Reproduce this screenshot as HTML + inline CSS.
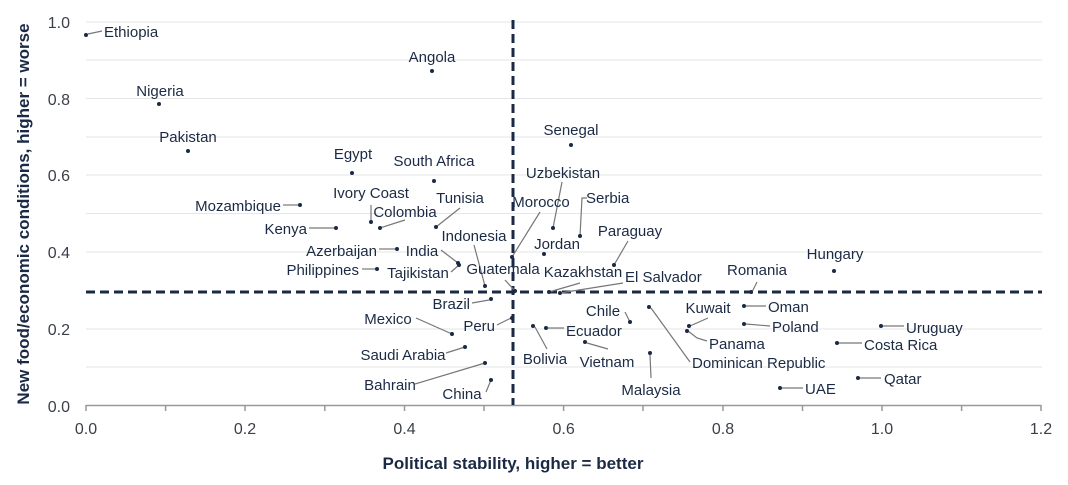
<!DOCTYPE html>
<html><head><meta charset="utf-8"><style>
html,body{margin:0;padding:0;background:#fff;width:1068px;height:485px;overflow:hidden}
svg{display:block}
text{font-family:"Liberation Sans",sans-serif}
</style></head><body>
<svg width="1068" height="485" viewBox="0 0 1068 485" xmlns="http://www.w3.org/2000/svg">
<g stroke="#e6e6e6" stroke-width="1">
<line x1="86" x2="1042" y1="22" y2="22"/><line x1="86" x2="1042" y1="60" y2="60"/><line x1="86" x2="1042" y1="98.5" y2="98.5"/><line x1="86" x2="1042" y1="137" y2="137"/><line x1="86" x2="1042" y1="175" y2="175"/><line x1="86" x2="1042" y1="213.5" y2="213.5"/><line x1="86" x2="1042" y1="252" y2="252"/><line x1="86" x2="1042" y1="329" y2="329"/><line x1="86" x2="1042" y1="367" y2="367"/>
</g>
<g stroke="#999" stroke-width="1.5">
<line x1="86" x2="1041" y1="405.5" y2="405.5"/>
<line x1="86" x2="86" y1="405" y2="411"/><line x1="165.6" x2="165.6" y1="405" y2="411"/><line x1="245" x2="245" y1="405" y2="411"/><line x1="324.8" x2="324.8" y1="405" y2="411"/><line x1="404.5" x2="404.5" y1="405" y2="411"/><line x1="484" x2="484" y1="405" y2="411"/><line x1="563.6" x2="563.6" y1="405" y2="411"/><line x1="643" x2="643" y1="405" y2="411"/><line x1="723" x2="723" y1="405" y2="411"/><line x1="802.5" x2="802.5" y1="405" y2="411"/><line x1="882" x2="882" y1="405" y2="411"/><line x1="961.6" x2="961.6" y1="405" y2="411"/><line x1="1041" x2="1041" y1="405" y2="411"/>
</g>
<g fill="#3a3f48" font-size="16" text-anchor="end">
<text x="70" y="28">1.0</text><text x="70" y="105">0.8</text><text x="70" y="181">0.6</text><text x="70" y="258">0.4</text><text x="70" y="335">0.2</text><text x="70" y="412">0.0</text>
</g>
<g fill="#3a3f48" font-size="16" text-anchor="middle">
<text x="86" y="434">0.0</text><text x="245" y="434">0.2</text><text x="404.5" y="434">0.4</text><text x="563.6" y="434">0.6</text><text x="723" y="434">0.8</text><text x="882" y="434">1.0</text><text x="1041" y="434">1.2</text>
</g>
<text x="513" y="469" text-anchor="middle" font-size="17" font-weight="bold" fill="#1b2a44">Political stability, higher = better</text>
<text transform="translate(29,214) rotate(-90)" text-anchor="middle" font-size="17" font-weight="bold" fill="#1b2a44">New food/economic conditions, higher = worse</text>
<g stroke="#1b2a44" stroke-width="3" stroke-dasharray="9,5">
<line x1="513" x2="513" y1="20" y2="405"/>
<line x1="86" x2="1042" y1="292" y2="292"/>
</g>
<g stroke="#777" stroke-width="1.2" fill="none">
<line x1="88" y1="34" x2="102" y2="31"/>
<line x1="283" y1="205" x2="298" y2="205"/>
<line x1="371" y1="205" x2="371" y2="222"/>
<line x1="562" y1="182" x2="553" y2="228"/>
<polyline points="587,198 582,198 580,236"/>
<line x1="460" y1="208" x2="436" y2="227"/>
<line x1="405" y1="220" x2="380" y2="228"/>
<line x1="540" y1="212" x2="512" y2="257"/>
<line x1="309" y1="228" x2="334" y2="228"/>
<line x1="474" y1="245" x2="485" y2="286"/>
<line x1="628" y1="241" x2="614" y2="265"/>
<line x1="379" y1="249" x2="395" y2="249"/>
<line x1="441" y1="250" x2="458" y2="263"/>
<line x1="362" y1="269" x2="375" y2="269"/>
<line x1="451" y1="272" x2="459" y2="265"/>
<line x1="505" y1="280" x2="515" y2="291"/>
<line x1="580" y1="283" x2="549" y2="292"/>
<line x1="623" y1="283" x2="560" y2="293"/>
<line x1="757" y1="282" x2="752" y2="292"/>
<line x1="472" y1="303" x2="489" y2="300"/>
<line x1="746" y1="306" x2="766" y2="306"/>
<line x1="625" y1="312" x2="630" y2="322"/>
<line x1="651" y1="308" x2="690" y2="362"/>
<line x1="497" y1="325" x2="511" y2="318"/>
<line x1="416" y1="318" x2="452" y2="334"/>
<line x1="708" y1="318" x2="690" y2="326"/>
<line x1="746" y1="324" x2="770" y2="326"/>
<line x1="883" y1="326" x2="904" y2="326"/>
<line x1="535" y1="327" x2="547" y2="349"/>
<line x1="548" y1="328" x2="564" y2="328"/>
<polyline points="688,331 697,338 707,341"/>
<line x1="839" y1="343" x2="862" y2="343"/>
<line x1="587" y1="343" x2="608" y2="349"/>
<line x1="446" y1="353" x2="465" y2="347"/>
<line x1="650" y1="355" x2="651" y2="378"/>
<line x1="415" y1="384" x2="485" y2="363"/>
<line x1="860" y1="378" x2="881" y2="378"/>
<line x1="782" y1="388" x2="803" y2="388"/>
<line x1="486" y1="392" x2="491" y2="380"/>
</g>
<g fill="#1b2a44">
<circle cx="86" cy="35" r="2"/><circle cx="432" cy="71" r="2"/><circle cx="159" cy="104" r="2"/><circle cx="188" cy="151" r="2"/><circle cx="571" cy="145" r="2"/><circle cx="352" cy="173" r="2"/><circle cx="434" cy="181" r="2"/><circle cx="553" cy="228" r="2"/><circle cx="300" cy="205" r="2"/><circle cx="371" cy="222" r="2"/><circle cx="580" cy="236" r="2"/><circle cx="436" cy="227" r="2"/><circle cx="380" cy="228" r="2"/><circle cx="512" cy="257" r="2"/><circle cx="336" cy="228" r="2"/><circle cx="485" cy="286" r="2"/><circle cx="544" cy="254" r="2"/><circle cx="614" cy="265" r="2"/><circle cx="397" cy="249" r="2"/><circle cx="458" cy="263" r="2"/><circle cx="834" cy="271" r="2"/><circle cx="377" cy="269" r="2"/><circle cx="459" cy="265" r="2"/><circle cx="515" cy="291" r="2"/><circle cx="549" cy="292" r="2"/><circle cx="751" cy="292" r="2"/><circle cx="560" cy="293" r="2"/><circle cx="491" cy="299" r="2"/><circle cx="744" cy="306" r="2"/><circle cx="630" cy="322" r="2"/><circle cx="649" cy="307" r="2"/><circle cx="512" cy="318" r="2"/><circle cx="452" cy="334" r="2"/><circle cx="689" cy="326" r="2"/><circle cx="744" cy="324" r="2"/><circle cx="881" cy="326" r="2"/><circle cx="533" cy="326" r="2"/><circle cx="546" cy="328" r="2"/><circle cx="687" cy="331" r="2"/><circle cx="837" cy="343" r="2"/><circle cx="585" cy="342" r="2"/><circle cx="465" cy="347" r="2"/><circle cx="650" cy="353" r="2"/><circle cx="485" cy="363" r="2"/><circle cx="858" cy="378" r="2"/><circle cx="780" cy="388" r="2"/><circle cx="491" cy="380" r="2"/>
</g>
<g fill="#1b2a44" font-size="15">
<text x="104" y="37">Ethiopia</text>
<text x="432" y="62" text-anchor="middle">Angola</text>
<text x="160" y="96" text-anchor="middle">Nigeria</text>
<text x="188" y="142" text-anchor="middle">Pakistan</text>
<text x="571" y="135" text-anchor="middle">Senegal</text>
<text x="353" y="159" text-anchor="middle">Egypt</text>
<text x="434" y="166" text-anchor="middle">South Africa</text>
<text x="563" y="178" text-anchor="middle">Uzbekistan</text>
<text x="281" y="211" text-anchor="end">Mozambique</text>
<text x="371" y="198" text-anchor="middle">Ivory Coast</text>
<text x="586" y="203">Serbia</text>
<text x="460" y="203" text-anchor="middle">Tunisia</text>
<text x="405" y="217" text-anchor="middle">Colombia</text>
<text x="541" y="207" text-anchor="middle">Morocco</text>
<text x="307" y="234" text-anchor="end">Kenya</text>
<text x="474" y="241" text-anchor="middle">Indonesia</text>
<text x="557" y="249" text-anchor="middle">Jordan</text>
<text x="630" y="236" text-anchor="middle">Paraguay</text>
<text x="377" y="256" text-anchor="end">Azerbaijan</text>
<text x="422" y="256" text-anchor="middle">India</text>
<text x="835" y="259" text-anchor="middle">Hungary</text>
<text x="359" y="275" text-anchor="end">Philippines</text>
<text x="418" y="278" text-anchor="middle">Tajikistan</text>
<text x="503" y="274" text-anchor="middle">Guatemala</text>
<text x="583" y="277" text-anchor="middle">Kazakhstan</text>
<text x="757" y="275" text-anchor="middle">Romania</text>
<text x="625" y="282">El Salvador</text>
<text x="470" y="309" text-anchor="end">Brazil</text>
<text x="768" y="312">Oman</text>
<text x="603" y="316" text-anchor="middle">Chile</text>
<text x="692" y="368">Dominican Republic</text>
<text x="495" y="331" text-anchor="end">Peru</text>
<text x="388" y="324" text-anchor="middle">Mexico</text>
<text x="708" y="313" text-anchor="middle">Kuwait</text>
<text x="772" y="332">Poland</text>
<text x="906" y="333">Uruguay</text>
<text x="545" y="364" text-anchor="middle">Bolivia</text>
<text x="566" y="336">Ecuador</text>
<text x="709" y="349">Panama</text>
<text x="864" y="350">Costa Rica</text>
<text x="607" y="367" text-anchor="middle">Vietnam</text>
<text x="403" y="360" text-anchor="middle">Saudi Arabia</text>
<text x="651" y="395" text-anchor="middle">Malaysia</text>
<text x="390" y="390" text-anchor="middle">Bahrain</text>
<text x="884" y="384">Qatar</text>
<text x="805" y="394">UAE</text>
<text x="462" y="399" text-anchor="middle">China</text>
</g>
</svg>
</body></html>
